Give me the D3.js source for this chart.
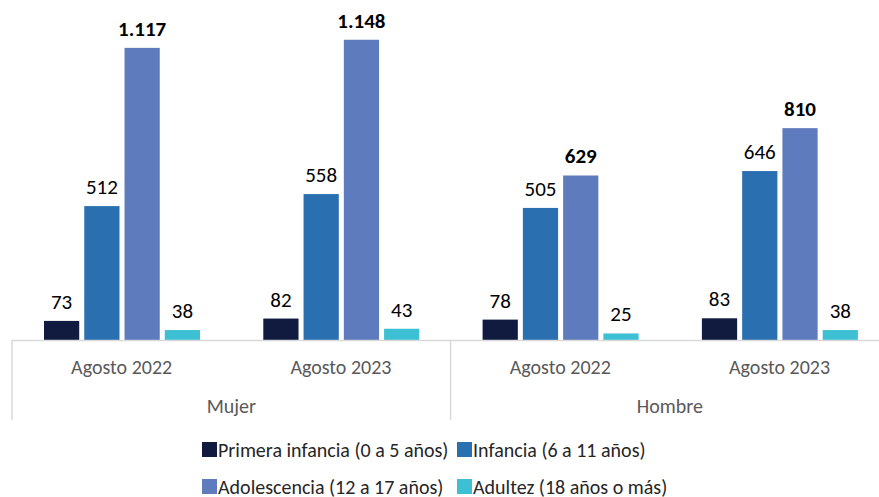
<!doctype html>
<html>
<head>
<meta charset="utf-8"/>
<title>Primera infancia, infancia, adolescencia y adultez por sexo</title>
<script src="https://d3js.org/d3.v7.min.js"></script>
<style>
  body { margin: 0; background: #fff; }
  text { font-family: Carlito, Calibri, Lato, "Open Sans", sans-serif; }
</style>
</head>
<body>
<script>
// datos
var sexos = ["Mujer", "Hombre"];
var periodos = ["Agosto 2022", "Agosto 2023"];
var series = ["Primera infancia (0 a 5 años)", "Infancia (6 a 11 años)",
              "Adolescencia (12 a 17 años)", "Adultez (18 años o más)"];
var colores = ["#111b3f", "#2a6fb0", "#5e7bbd", "#3dc0d3"];
// un array por serie, orden: Mujer 2022, Mujer 2023, Hombre 2022, Hombre 2023
var primeraInfancia = [73, 82, 78, 83];
var infancia = [512, 558, 505, 646];
var adolescencia = [1117, 1148, 629, 810];
var adultez = [38, 43, 25, 38];
var valores = [primeraInfancia, infancia, adolescencia, adultez];
var etiquetas = [
  ["73", "82", "78", "83"],
  ["512", "558", "505", "646"],
  ["1.117", "1.148", "629", "810"],
  ["38", "43", "25", "38"]
];
var negrita = 2; // la serie de adolescencia lleva etiqueta en negrita

var W = 879, H = 497;
var base = 340;

var svg = d3.select("body").append("svg")
  .attr("width", W).attr("height", H);

// categorias (sexo + periodo)
var cats = [];
sexos.forEach(function(s) { periodos.forEach(function(p) { cats.push(s + "|" + p); }); });

var x0 = d3.scaleBand().domain(cats).range([12, 12 + 4 * 219.3]).paddingInner(0).paddingOuter(0);
var x1 = d3.scaleBand().domain(d3.range(series.length))
  .range([32, x0.bandwidth() - 31.3]).paddingInner(0.125).paddingOuter(0);
var y = d3.scaleLinear().domain([0, 1300]).range([base, 0]);

// barras
series.forEach(function(serie, si) {
  var g = svg.append("g");
  g.selectAll("rect").data(valores[si]).enter().append("rect")
    .attr("x", function(d, i) { return x0(cats[i]) + x1(si); })
    .attr("y", function(d) { return y(d); })
    .attr("width", x1.bandwidth())
    .attr("height", function(d) { return base - y(d); })
    .attr("fill", colores[si]);
  g.selectAll("text").data(valores[si]).enter().append("text")
    .attr("x", function(d, i) { return x0(cats[i]) + x1(si) + x1.bandwidth() / 2; })
    .attr("y", function(d) { return y(d) - 12; })
    .attr("text-anchor", "middle")
    .attr("font-size", 21)
    .attr("font-weight", si === negrita ? "bold" : "normal")
    .attr("fill", "#000")
    .text(function(d, i) { return etiquetas[si][i]; });
});

// eje
svg.append("line").attr("x1", 12).attr("x2", W).attr("y1", base + 0.5).attr("y2", base + 0.5)
  .attr("stroke", "#d9d9d9").attr("stroke-width", 1.5);
[0, 2, 4].forEach(function(k) {
  var xx = 12 + k * x0.step();
  svg.append("line").attr("x1", xx).attr("x2", xx).attr("y1", base).attr("y2", 420)
    .attr("stroke", "#d9d9d9").attr("stroke-width", 1.5);
});

svg.selectAll("text.per").data(cats).enter().append("text")
  .attr("class", "per")
  .attr("x", function(d) { return x0(d) + x0.bandwidth() / 2; })
  .attr("y", 374)
  .attr("text-anchor", "middle")
  .attr("font-size", 20)
  .attr("fill", "#595959")
  .text(function(d) { return d.split("|")[1]; });

svg.selectAll("text.sexo").data(sexos).enter().append("text")
  .attr("class", "sexo")
  .attr("x", function(d, i) { return 12 + (i * 2 + 1) * x0.step(); })
  .attr("y", 413)
  .attr("text-anchor", "middle")
  .attr("font-size", 20)
  .attr("fill", "#595959")
  .text(function(d) { return d; });

// leyenda
var legPos = [[202, 442], [457, 442], [202, 479], [457, 479]];
var leg = svg.selectAll("g.leg").data(series).enter().append("g")
  .attr("class", "leg")
  .attr("transform", function(d, i) { return "translate(" + legPos[i][0] + "," + legPos[i][1] + ")"; });
leg.append("rect").attr("width", 15).attr("height", 15)
  .attr("fill", function(d, i) { return colores[i]; });
leg.append("text").attr("x", 16).attr("y", 14.5)
  .attr("font-size", 20).attr("fill", "#262626")
  .text(function(d) { return d; });
</script>
</body>
</html>
